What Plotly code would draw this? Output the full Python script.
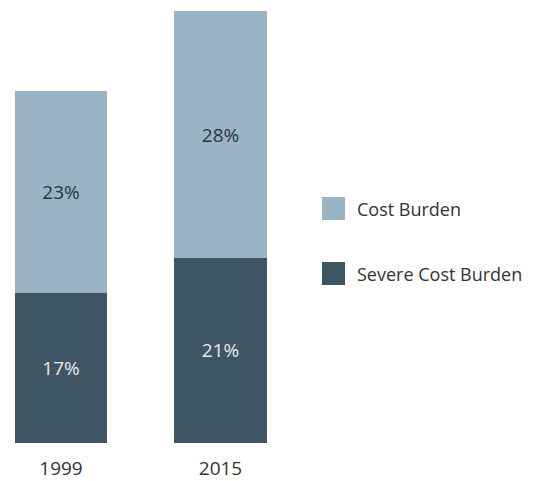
import plotly.graph_objects as go

# Housing cost burden shares, by year
years = ["1999", "2015"]
severe_cost_burden = [17, 21]
cost_burden = [23, 28]

series_names = ["Severe Cost Burden", "Cost Burden"]
LIGHT = "#9bb4c3"
DARK = "#3e5664"
FONT = "Open Sans"

W, H = 534, 481
ML, MR, MT, MB = 0, 0, 0, 38
plot_h = H - MT - MB

x_pos = list(range(len(years)))

fig = go.Figure()
fig.add_trace(go.Bar(
    x=x_pos, y=severe_cost_burden, name=series_names[0],
    marker=dict(color=DARK, line=dict(width=0)),
    width=0.577,
    text=severe_cost_burden, texttemplate="%{y}%",
    textposition="inside", insidetextanchor="middle", textangle=0,
    constraintext="none",
    textfont=dict(family=FONT, size=19, color="#e3eaee"),
    showlegend=False,
))
fig.add_trace(go.Bar(
    x=x_pos, y=cost_burden, name=series_names[1],
    marker=dict(color=LIGHT, line=dict(width=0)),
    width=0.577,
    text=cost_burden, texttemplate="%{y}%",
    textposition="inside", insidetextanchor="middle", textangle=0,
    constraintext="none",
    textfont=dict(family=FONT, size=19, color="#283843"),
    showlegend=False,
))

# Legend drawn as swatches + labels to the right of the bars
def py(pixel_y):
    return (H - MB - pixel_y) / plot_h

legend_items = [(series_names[1], LIGHT, 197, 220), (series_names[0], DARK, 262, 285)]
shapes, annotations = [], []
for label, color, y0, y1 in legend_items:
    shapes.append(dict(type="rect", xref="paper", yref="paper",
                       x0=322 / W, x1=345 / W, y0=py(y1), y1=py(y0),
                       fillcolor=color, line=dict(width=0)))
    annotations.append(dict(xref="paper", yref="paper", x=355 / W, y=py((y0 + y1) / 2),
                            xanchor="left", yanchor="middle", showarrow=False,
                            text=label, font=dict(family=FONT, size=18, color="#333333")))

px_per_unit = 159.5
x_left = -61 / px_per_unit
x_right = (W - 61) / px_per_unit

fig.update_layout(
    width=W, height=H,
    margin=dict(l=ML, r=MR, t=MT, b=MB, pad=0),
    barmode="stack",
    paper_bgcolor="white", plot_bgcolor="white",
    font=dict(family=FONT, color="#333333"),
    shapes=shapes, annotations=annotations,
    xaxis=dict(range=[x_left, x_right], tickvals=x_pos, ticktext=years,
               showgrid=False, zeroline=False, showline=False, ticks="",
               ticklabelstandoff=12,
               tickfont=dict(family=FONT, size=19, color="#333333")),
    yaxis=dict(range=[0, plot_h / 8.81], visible=False, showgrid=False, zeroline=False),
)

fig.write_html("out.html")
